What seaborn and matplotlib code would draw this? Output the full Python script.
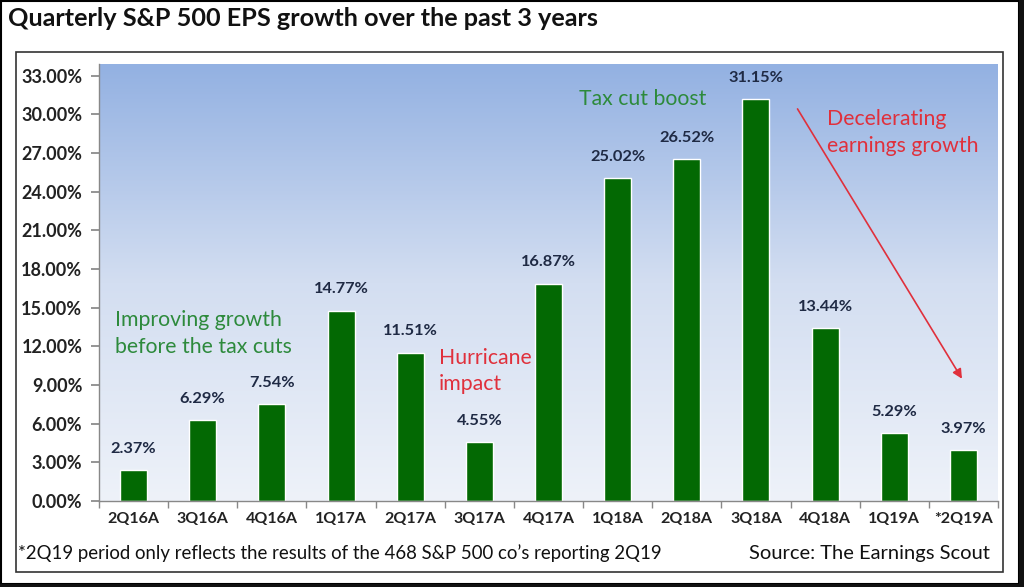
import matplotlib
matplotlib.use("Agg")
import matplotlib.pyplot as plt
import seaborn as sns
import numpy as np
import pandas as pd
from matplotlib.colors import LinearSegmentedColormap
from matplotlib.patches import Rectangle

# chart data
quarters = ['2Q16A', '3Q16A', '4Q16A', '1Q17A', '2Q17A', '3Q17A', '4Q17A',
            '1Q18A', '2Q18A', '3Q18A', '4Q18A', '1Q19A', '*2Q19A']
eps_growth = [2.37, 6.29, 7.54, 14.77, 11.51, 4.55, 16.87,
              25.02, 26.52, 31.15, 13.44, 5.29, 3.97]
y_ticks = [0, 3, 6, 9, 12, 15, 18, 21, 24, 27, 30, 33]

df = pd.DataFrame({'quarter': quarters, 'growth': eps_growth})

sns.set_theme(style='white')
plt.rcParams['font.family'] = ['Lato', 'DejaVu Sans']

fig = plt.figure(figsize=(10.24, 5.87), dpi=100)
ax = fig.add_axes([99 / 1024, 1 - 501 / 587, (998 - 99) / 1024, (501 - 64) / 587])

# gradient background for the plot area
grad = LinearSegmentedColormap.from_list('bg', ['#eef2f9', '#d3def1', '#93b1e2'])
ax.imshow(np.linspace(0, 1, 256).reshape(-1, 1), aspect='auto', cmap=grad,
          origin='lower', extent=(-0.5, 12.5, 0, 33.9), zorder=0)

sns.barplot(data=df, x='quarter', y='growth', color='#036903', width=0.39,
            saturation=1, ax=ax, zorder=2)

ax.set_xlim(-0.5, 12.5)
ax.set_ylim(0, 33.9)
ax.set_yticks(y_ticks)
ax.set_yticklabels([f'{v:.2f}%' for v in y_ticks])
ax.set_xlabel('')
ax.set_ylabel('')

# Excel-style ticks between categories
ax.set_xticks(np.arange(-0.5, 13, 1), minor=True)
ax.tick_params(axis='x', which='major', length=0, pad=8, labelsize=11.5,
               labelcolor='#222222')
ax.tick_params(axis='x', which='minor', bottom=True, length=5, color='#888888')
ax.tick_params(axis='y', left=True, length=6, color='#888888', labelsize=13,
               labelcolor='#222222', pad=6)
for lab in ax.get_xticklabels() + ax.get_yticklabels():
    lab.set_fontweight('bold')

for side in ['top', 'right']:
    ax.spines[side].set_visible(False)
for side in ['left', 'bottom']:
    ax.spines[side].set_color('#888888')
    ax.spines[side].set_linewidth(1)

# value labels
for i, v in enumerate(eps_growth):
    ax.text(i, v + 1.1, f'{v:.2f}%', ha='center', va='bottom', fontsize=11.8,
            fontweight='bold', color='#1f2a44', zorder=3)

# annotations
ax.text(7.36, 31.2, 'Tax cut boost', ha='center', va='center', fontsize=15.3,
        color='#2d8a3c')
ax.text(-0.27, 13.0, 'Improving growth\nbefore the tax cuts', ha='left',
        va='center', fontsize=15.3, color='#2d8a3c', linespacing=1.4)
ax.text(4.41, 10.1, 'Hurricane\nimpact', ha='left', va='center', fontsize=15.3,
        color='#e0303c', linespacing=1.4)
ax.text(10.03, 28.6, 'Decelerating\nearnings growth', ha='left', va='center',
        fontsize=15.3, color='#e0303c', linespacing=1.4)
ax.annotate('', xy=(12.0, 9.3), xytext=(9.58, 30.6),
            arrowprops=dict(arrowstyle='-|>', color='#e0303c', lw=1.2,
                            mutation_scale=14), zorder=4)

# title and footnotes
fig.text(8 / 1024, 1 - 19 / 587, 'Quarterly S&P 500 EPS growth over the past 3 years',
         ha='left', va='center', fontsize=18.2, fontweight='bold', color='#111111')
fig.text(18 / 1024, 1 - 553 / 587,
         '*2Q19 period only reflects the results of the 468 S&P 500 co\u2019s reporting 2Q19',
         ha='left', va='center', fontsize=13.4, color='#111111')
fig.text(990 / 1024, 1 - 553 / 587, 'Source: The Earnings Scout', ha='right',
         va='center', fontsize=14.5, color='#111111')

# inner frame
fig.patches.append(Rectangle((16 / 1024, 1 - 572 / 587), (1003 - 16) / 1024,
                             (572 - 52) / 587, transform=fig.transFigure,
                             fill=False, edgecolor='#333333', lw=1.2))
# outer border: thin on top/left, heavier on right/bottom
fig.patches.append(Rectangle((1 / 1024, 1 - 584 / 587), 1018 / 1024, 583 / 587,
                             transform=fig.transFigure, fill=False,
                             edgecolor='black', lw=1.5))
fig.patches.append(Rectangle((1019 / 1024, 0), 5 / 1024, 1,
                             transform=fig.transFigure, color='#111111', lw=0))
fig.patches.append(Rectangle((0, 0), 1, 3 / 587,
                             transform=fig.transFigure, color='#111111', lw=0))

fig.savefig('out.png', dpi=100)
